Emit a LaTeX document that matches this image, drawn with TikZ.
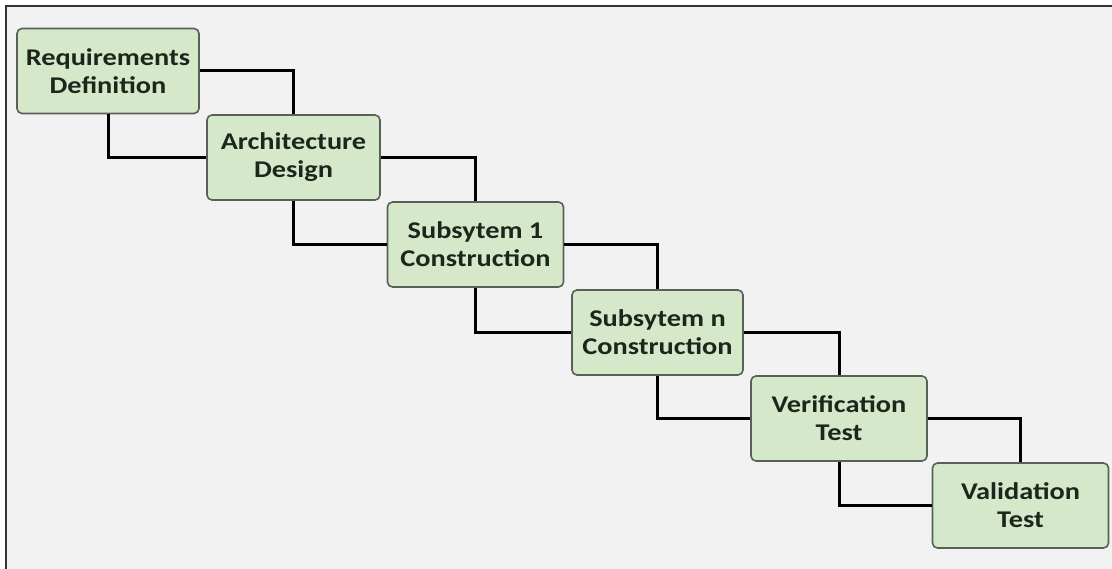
\documentclass[tikz,border=0pt]{standalone}
\usepackage{fontspec}
\setmainfont{Carlito}[FakeStretch=1.18]
\definecolor{boxfill}{HTML}{D6E8CA}
\definecolor{boxline}{HTML}{5A5F58}
\definecolor{boxtext}{HTML}{1C261C}
\definecolor{paper}{HTML}{F2F2F2}
\begin{document}
\begin{tikzpicture}[x=1pt,y=-1pt]
\tikzstyle{box_style} = [draw=boxline, line width=1.6, fill=boxfill, rounded corners=5,
    minimum width=176, minimum height=85, inner sep=0, align=center,
    text=boxtext, font=\fontsize{24}{28}\selectfont\bfseries]
\tikzstyle{edge_style} = [black, line width=3]
    \useasboundingbox (0,0) rectangle (1112,569);
    \fill[white] (0,0) rectangle (1112,569);
    \fill[paper] (6,6) rectangle (1112,569);
    \draw[line width=2.5, black!80] (6,569) -- (6,6) -- (1112,6);

    \node[box_style, minimum width=182] (req) at (108,71) {Requirements\\Definition};
    \node[box_style, minimum width=173] (arch) at (293.5,157.5) {Architecture\\Design};
    \node[box_style] (sub1) at (475.5,244.5) {Subsytem 1\\Construction};
    \node[box_style, minimum width=171] (subn) at (657.5,332.5) {Subsytem n\\Construction};
    \node[box_style] (ver) at (839,418.5) {Verification\\Test};
    \node[box_style] (val) at (1020.5,505.5) {Validation\\Test};

    \draw[edge_style] (req.east) -| (arch.north);
    \draw[edge_style] (req.south) |- (arch.west);
    \draw[edge_style] (arch.east) -| (sub1.north);
    \draw[edge_style] (arch.south) |- (sub1.west);
    \draw[edge_style] (sub1.east) -| (subn.north);
    \draw[edge_style] (sub1.south) |- (subn.west);
    \draw[edge_style] (subn.east) -| (ver.north);
    \draw[edge_style] (subn.south) |- (ver.west);
    \draw[edge_style] (ver.east) -| (val.north);
    \draw[edge_style] (ver.south) |- (val.west);
\end{tikzpicture}
\end{document}
